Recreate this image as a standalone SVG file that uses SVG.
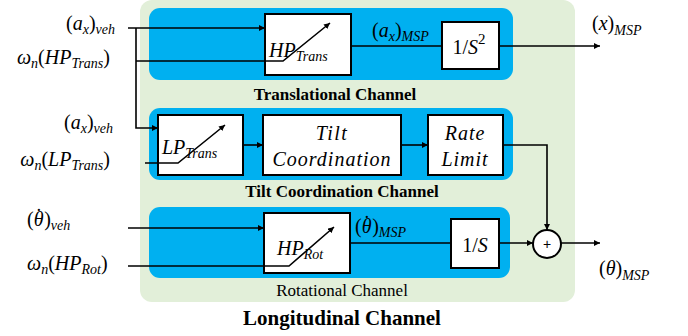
<svg xmlns="http://www.w3.org/2000/svg" width="688" height="336" viewBox="0 0 688 336">
<style>
.bg{fill:#E2EFD9}
.ch{fill:#00B0F0}
.blk{fill:#fff;stroke:#000;stroke-width:2}
.ln{fill:none;stroke:#000;stroke-width:1.6}
.m{font-family:"Liberation Serif","DejaVu Serif",serif;font-size:20px;fill:#000}
.i{font-style:italic}
.s{font-size:14px;font-style:italic}
.cap{font-family:"Liberation Serif","DejaVu Serif",serif;font-size:17px;font-weight:bold;fill:#000}
.reg{font-weight:normal}
.title{font-family:"Liberation Serif","DejaVu Serif",serif;font-size:21px;font-weight:bold;fill:#000}
</style>
<defs>
<marker id="a" viewBox="0 0 10 10" refX="10" refY="5" markerWidth="6" markerHeight="6" markerUnits="userSpaceOnUse" orient="auto"><path d="M0,0L10,5L0,10z" fill="#000"/></marker>
</defs>
<rect class="bg" x="140" y="0" width="435" height="302" rx="12"/>
<g id="translational">
<rect class="ch" x="149" y="8" width="364" height="72" rx="11"/>
<text class="cap" x="335" y="100" text-anchor="middle">Translational Channel</text>
</g>
<g id="tilt">
<rect class="ch" x="149" y="108" width="364" height="72" rx="11"/>
<text class="cap" x="342" y="197" text-anchor="middle">Tilt Coordination Channel</text>
</g>
<g id="rotational">
<rect class="ch" x="149" y="207" width="361" height="71" rx="11"/>
<text class="cap reg" x="342" y="296" text-anchor="middle">Rotational Channel</text>
</g>
<text class="title" x="342" y="325" text-anchor="middle">Longitudinal Channel</text>

<g id="hp-trans"><rect class="blk" x="265" y="14" width="86" height="61"/>
<text class="m i" x="269" y="57" font-size="21">HP<tspan class="s" dy="4" font-size="16">Trans</tspan></text></g>
<g id="int2"><rect class="blk" x="442" y="22" width="57" height="47"/>
<text class="m" x="469" y="54" text-anchor="middle" font-size="24">1/<tspan class="i">S</tspan><tspan font-size="15" dy="-10">2</tspan></text></g>
<g id="lp-trans"><rect class="blk" x="158" y="115" width="85" height="60"/>
<text class="m i" x="162" y="154" font-size="21">LP<tspan class="s" dy="4" font-size="16">Trans</tspan></text></g>
<g id="tiltcoord"><rect class="blk" x="263" y="115" width="138" height="60"/>
<text class="m i" x="332" y="140" text-anchor="middle" letter-spacing="1.5">Tilt</text>
<text class="m i" x="332" y="166" text-anchor="middle" letter-spacing="1">Coordination</text></g>
<g id="ratelimit"><rect class="blk" x="428" y="115" width="75" height="60"/>
<text class="m i" x="465" y="140" text-anchor="middle" letter-spacing="1">Rate</text>
<text class="m i" x="465" y="166" text-anchor="middle" letter-spacing="1">Limit</text></g>
<g id="hp-rot"><rect class="blk" x="264" y="213" width="86" height="60"/>
<text class="m i" x="277" y="255" font-size="21">HP<tspan class="s" dy="4" font-size="16">Rot</tspan></text></g>
<g id="int1"><rect class="blk" x="451" y="219" width="48" height="49"/>
<text class="m" x="475" y="252" text-anchor="middle" font-size="24">1/<tspan class="i">S</tspan></text></g>
<g id="sum"><circle cx="547" cy="244" r="14" fill="#fff" stroke="#000" stroke-width="2"/>
<text x="547" y="249" text-anchor="middle" font-family="Liberation Sans,sans-serif" font-size="14">+</text></g>

<g id="connectors">
<path class="ln" d="M128,28H265" marker-end="url(#a)"/>
<path class="ln" d="M136,28V128H158" marker-end="url(#a)"/>
<path class="ln" d="M136,61H283L330,23" marker-end="url(#a)"/>
<path class="ln" d="M351,46H442"/>
<path class="ln" d="M499,46H600" marker-end="url(#a)"/>
<path class="ln" d="M145,163H178L225,125" marker-end="url(#a)"/>
<path class="ln" d="M243,145H263" marker-end="url(#a)"/>
<path class="ln" d="M401,145H428" marker-end="url(#a)"/>
<path class="ln" d="M503,145H547V230" marker-end="url(#a)"/>
<path class="ln" d="M128,228H264" marker-end="url(#a)"/>
<path class="ln" d="M128,266H289L334,227" marker-end="url(#a)"/>
<path class="ln" d="M350,243H451"/>
<path class="ln" d="M499,243H533" marker-end="url(#a)"/>
<path class="ln" d="M561,243H600" marker-end="url(#a)"/>
</g>

<g id="labels">
<text class="m" x="115" y="30" text-anchor="end">(<tspan class="i">a</tspan><tspan class="s" dy="4">x</tspan><tspan dy="-4">)</tspan><tspan class="s" dy="4">veh</tspan></text>
<text class="m" x="110" y="64" text-anchor="end"><tspan class="i">ω</tspan><tspan class="s" dy="4">n</tspan><tspan dy="-4">(</tspan><tspan class="i">HP</tspan><tspan class="s" dy="4">Trans</tspan><tspan dy="-4">)</tspan></text>
<text class="m" x="113" y="129" text-anchor="end">(<tspan class="i">a</tspan><tspan class="s" dy="4">x</tspan><tspan dy="-4">)</tspan><tspan class="s" dy="4">veh</tspan></text>
<text class="m" x="110" y="166" text-anchor="end"><tspan class="i">ω</tspan><tspan class="s" dy="4">n</tspan><tspan dy="-4">(</tspan><tspan class="i">LP</tspan><tspan class="s" dy="4">Trans</tspan><tspan dy="-4">)</tspan></text>
<text class="m" x="27" y="226">(<tspan class="i">θ</tspan><tspan dx="-8" dy="-3">˙</tspan><tspan dx="2" dy="3">)</tspan><tspan class="s" dy="4">veh</tspan></text>
<text class="m" x="27" y="270"><tspan class="i">ω</tspan><tspan class="s" dy="4">n</tspan><tspan dy="-4">(</tspan><tspan class="i">HP</tspan><tspan class="s" dy="4">Rot</tspan><tspan dy="-4">)</tspan></text>
<text class="m" x="372" y="37">(<tspan class="i">a</tspan><tspan class="s" dy="4">x</tspan><tspan dy="-4">)</tspan><tspan class="s" dy="4">MSP</tspan></text>
<text class="m" x="592" y="30" font-size="22">(<tspan class="i">x</tspan>)<tspan class="s" dy="5" font-size="16">MSP</tspan></text>
<text class="m" x="355" y="233">(<tspan class="i">θ</tspan><tspan dx="-8" dy="-3">˙</tspan><tspan dx="2" dy="3">)</tspan><tspan class="s" dy="4">MSP</tspan></text>
<text class="m" x="599" y="275" font-size="22">(<tspan class="i">θ</tspan>)<tspan class="s" dy="5" font-size="16">MSP</tspan></text>
</g>
</svg>
